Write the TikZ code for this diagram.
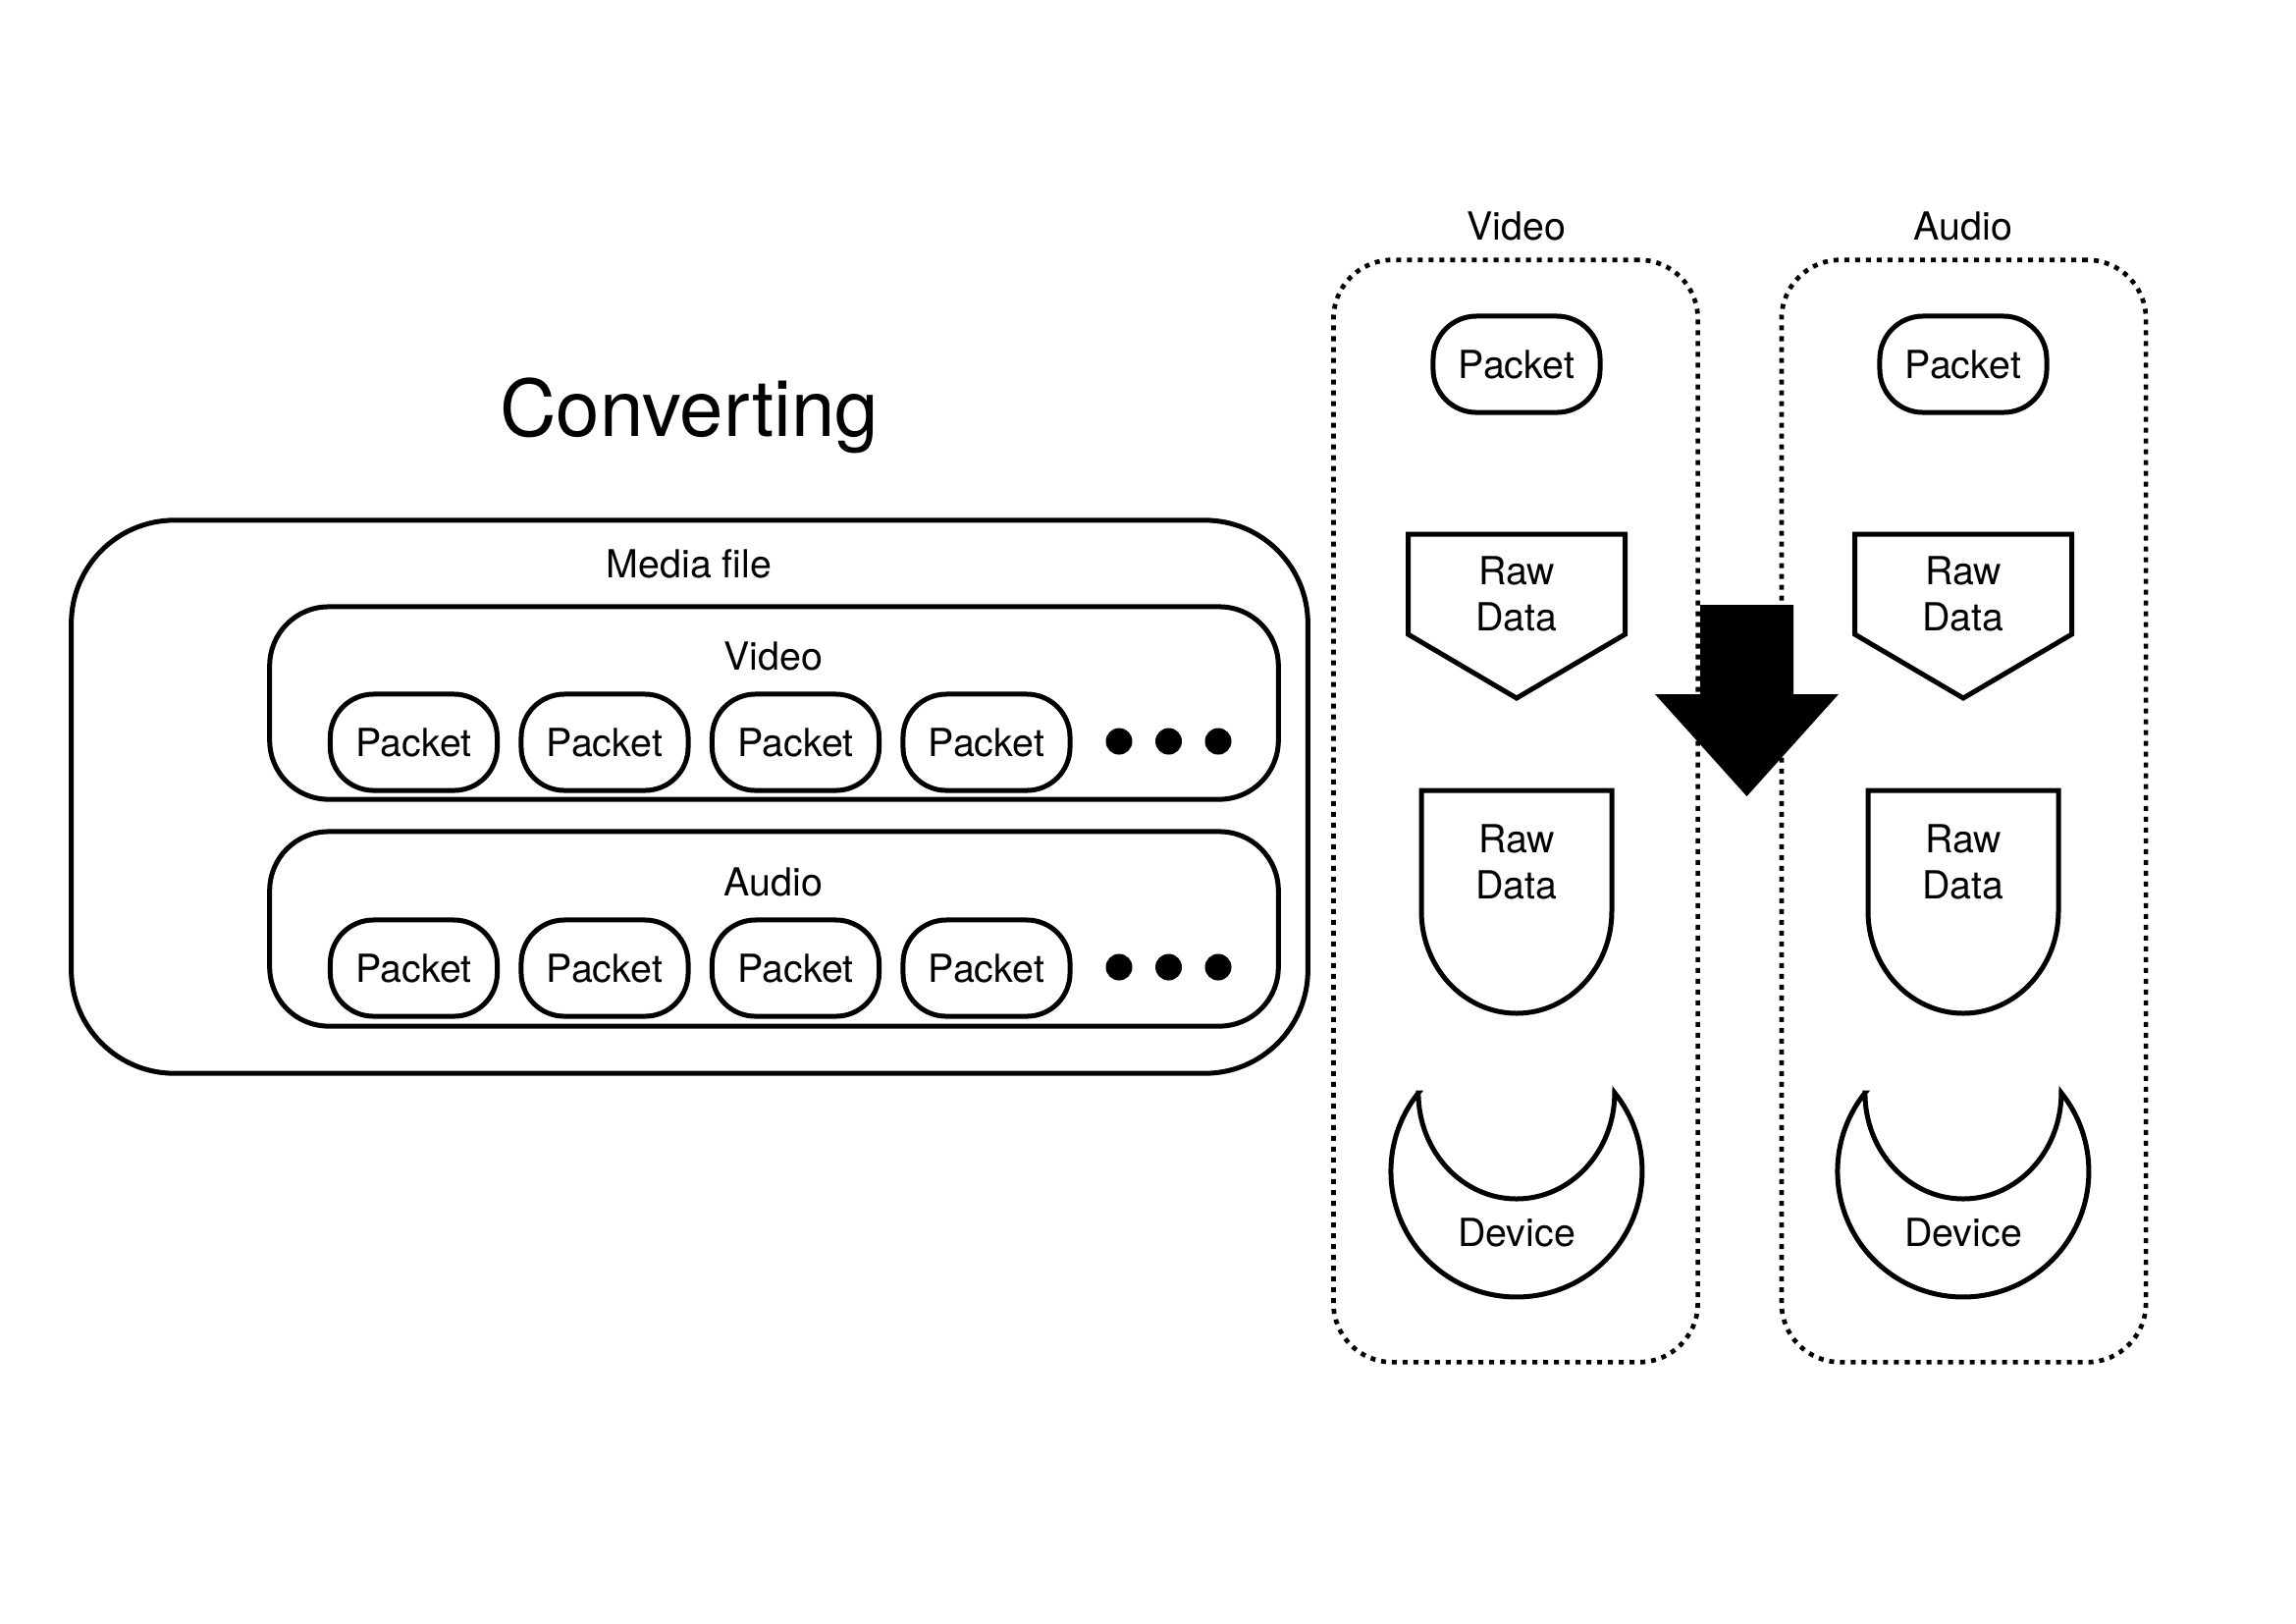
\documentclass[tikz,border=0pt]{standalone}
\usepackage{fontspec}
\setmainfont{TeX Gyre Heros}
\usepackage{tikz}
\usetikzlibrary{calc}

\begin{document}
\begin{tikzpicture}[x=0.01cm,y=0.01cm]
	\tikzstyle{line}=[draw,line width = 0.5mm,black]
	\tikzstyle{txt}=[font=\fontsize{11.2}{13.3}\selectfont,inner sep=0pt,align=center]
	\tikzstyle{lbl}=[txt,anchor=base]
	\tikzstyle{packet}=[line,txt,rounded corners=4.4mm,minimum width=1.70cm,minimum height=0.98cm]
	\tikzstyle{dot}=[circle,fill=black,inner sep=0pt,minimum size=2.7mm]
	\tikzstyle{group}=[line,rounded corners=6mm,minimum width=10.27cm]
	\tikzstyle{column}=[draw,line width=0.47mm,dash pattern=on 0.5mm off 0.6mm,rounded corners=6mm,minimum width=3.71cm,minimum height=11.22cm]
	\useasboundingbox (0,0) rectangle (2339,-1653);

	% left side: the media file
	\node[anchor=base,font=\fontsize{22.7}{27}\selectfont] (title) at (702,-444) {Converting};
	\node[line,rounded corners=1.05cm,minimum width=12.59cm,minimum height=5.63cm] (media) at (702.5,-811.5) {};
	\node[lbl] (medialbl) at (702,-588) {Media file};

	\node[group,minimum height=1.96cm] (vbox) at (788.5,-716) {};
	\node[lbl] (vlbl) at (788,-682) {Video};
	\node[packet] (vp1) at (421.5,-756) {Packet};
	\node[packet] (vp2) at (616,-756) {Packet};
	\node[packet] (vp3) at (810.5,-756) {Packet};
	\node[packet] (vp4) at (1005,-756) {Packet};
	\node[dot] (vd1) at (1140,-755) {};
	\node[dot] (vd2) at (1190.5,-755) {};
	\node[dot] (vd3) at (1241,-755) {};

	\node[group,minimum height=1.98cm] (abox) at (788.5,-946) {};
	\node[lbl] (albl) at (788,-912) {Audio};
	\node[packet] (ap1) at (421.5,-986) {Packet};
	\node[packet] (ap2) at (616,-986) {Packet};
	\node[packet] (ap3) at (810.5,-986) {Packet};
	\node[packet] (ap4) at (1005,-986) {Packet};
	\node[dot] (ad1) at (1140,-985) {};
	\node[dot] (ad2) at (1190.5,-985) {};
	\node[dot] (ad3) at (1241,-985) {};

	% right side: video column
	\node[column] (vcol) at (1544,-826) {};
	\node[lbl] (vcollbl) at (1545,-244) {Video};
	\node[packet] (vpk) at (1545,-371) {Packet};
	\draw[line] (1434.5,-544) -- (1655.5,-544) -- (1655.5,-646) -- (1545,-711) -- (1434.5,-646) -- cycle;
	\node[txt] (vraw) at (1545,-605) {Raw\\Data};
	\draw[line] (1448,-805) -- (1642,-805) -- (1642,-928) arc[start angle=0,end angle=-180,x radius=97,y radius=104] -- cycle;
	\node[txt] (vdec) at (1545,-878) {Raw\\Data};
	\draw[line] (1445,-1113) arc[start angle=141.34,end angle=398.66,radius=128] arc[start angle=0,end angle=-180,x radius=100,y radius=108] -- cycle;
	\node[txt] (vdev) at (1545,-1255) {Device};

	% right side: audio column
	\node[column] (acol) at (2000.5,-826) {};
	\node[lbl] (acollbl) at (2000,-244) {Audio};
	\node[packet] (apk) at (2000,-371) {Packet};
	\draw[line] (1889.5,-544) -- (2110.5,-544) -- (2110.5,-646) -- (2000,-711) -- (1889.5,-646) -- cycle;
	\node[txt] (araw) at (2000,-605) {Raw\\Data};
	\draw[line] (1903,-805) -- (2097,-805) -- (2097,-928) arc[start angle=0,end angle=-180,x radius=97,y radius=104] -- cycle;
	\node[txt] (adec) at (2000,-878) {Raw\\Data};
	\draw[line] (1900,-1113) arc[start angle=141.34,end angle=398.66,radius=128] arc[start angle=0,end angle=-180,x radius=100,y radius=108] -- cycle;
	\node[txt] (adev) at (2000,-1255) {Device};

	% big arrow between the columns
	\fill[black] (1732,-616) -- (1827,-616) -- (1827,-707) -- (1873,-707) -- (1779.5,-811) -- (1686,-707) -- (1732,-707) -- cycle;
\end{tikzpicture}
\end{document}
